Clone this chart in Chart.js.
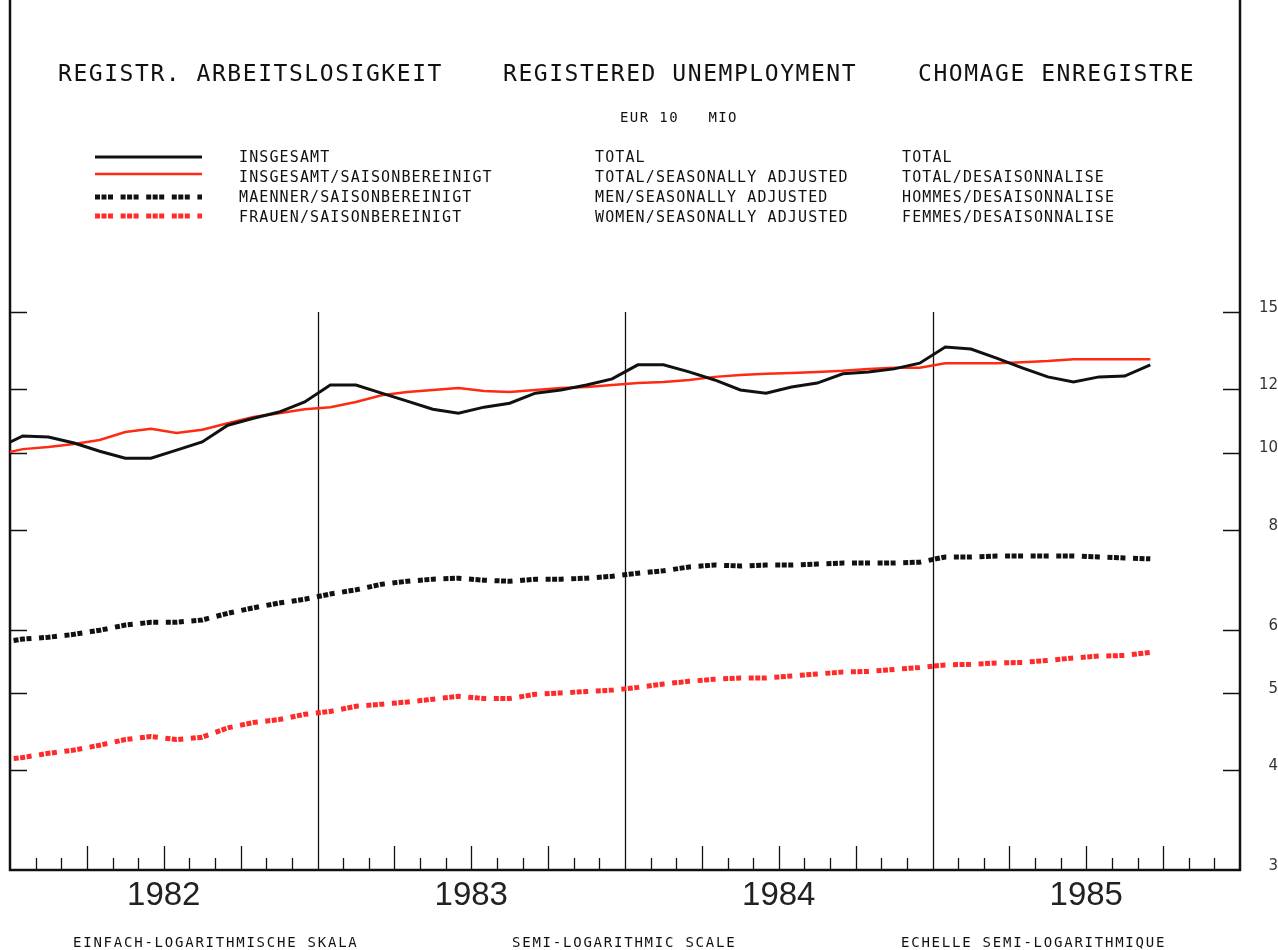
<!DOCTYPE html>
<html>
<head>
<meta charset="utf-8">
<title>Registrierte Arbeitslosigkeit</title>
<script src="https://cdn.jsdelivr.net/npm/chart.js@4.4.0/dist/chart.umd.min.js"></script>
<style>
    body { margin: 0; background: #fff; }
    #caixa { position: relative; width: 1278px; height: 950px; overflow: hidden; background: #fff; }
    #grafico { position: absolute; left: 0; top: 0; }
    .txt { position: absolute; font-family: "DejaVu Sans Mono", monospace; color: #111; white-space: pre; line-height: 1; }
    .titulo { font-size: 23px; letter-spacing: 1.55px; top: 62px; }
    .unidade { font-size: 14px; letter-spacing: 1.4px; top: 110px; left: 620px; }
    .legenda { font-size: 15px; letter-spacing: 1.12px; line-height: 20px; top: 147px; }
    .rodape { font-size: 14px; letter-spacing: 1.77px; top: 935px; }
</style>
</head>
<body>
<div id="caixa">
    <canvas id="grafico" width="1278" height="950"></canvas>

    <div class="txt titulo" style="left:58px">REGISTR. ARBEITSLOSIGKEIT</div>
    <div class="txt titulo" style="left:503px">REGISTERED UNEMPLOYMENT</div>
    <div class="txt titulo" style="left:918px">CHOMAGE ENREGISTRE</div>
    <div class="txt unidade">EUR 10   MIO</div>

    <div class="txt legenda" style="left:239px">INSGESAMT
INSGESAMT/SAISONBEREINIGT
MAENNER/SAISONBEREINIGT
FRAUEN/SAISONBEREINIGT</div>
    <div class="txt legenda" style="left:595px">TOTAL
TOTAL/SEASONALLY ADJUSTED
MEN/SEASONALLY ADJUSTED
WOMEN/SEASONALLY ADJUSTED</div>
    <div class="txt legenda" style="left:902px">TOTAL
TOTAL/DESAISONNALISE
HOMMES/DESAISONNALISE
FEMMES/DESAISONNALISE</div>

    <div class="txt rodape" style="left:73px">EINFACH-LOGARITHMISCHE SKALA</div>
    <div class="txt rodape" style="left:512px">SEMI-LOGARITHMIC SCALE</div>
    <div class="txt rodape" style="left:901px">ECHELLE SEMI-LOGARITHMIQUE</div>
</div>

<script>
// meses (Dez 1981 ate Set 1985), valores em EUR 10 MIO
const meses = [
    '12/81',
    '01/82', '02/82', '03/82', '04/82', '05/82', '06/82', '07/82', '08/82', '09/82', '10/82', '11/82', '12/82',
    '01/83', '02/83', '03/83', '04/83', '05/83', '06/83', '07/83', '08/83', '09/83', '10/83', '11/83', '12/83',
    '01/84', '02/84', '03/84', '04/84', '05/84', '06/84', '07/84', '08/84', '09/84', '10/84', '11/84', '12/84',
    '01/85', '02/85', '03/85', '04/85', '05/85', '06/85', '07/85', '08/85', '09/85'
];

const insgesamt = [
    10.13,
    10.49, 10.46, 10.28, 10.04, 9.84, 9.84, 10.07, 10.31, 10.82, 11.04, 11.24, 11.57,
    12.15, 12.15, 11.87, 11.60, 11.33, 11.20, 11.40, 11.53, 11.87, 11.98, 12.15, 12.37,
    12.88, 12.88, 12.62, 12.33, 11.98, 11.87, 12.08, 12.22, 12.55, 12.62, 12.73, 12.94,
    13.56, 13.48, 13.13, 12.77, 12.44, 12.26, 12.44, 12.47, 12.88
];

const insgesamtSaison = [
    9.93,
    10.10, 10.16, 10.25, 10.37, 10.61, 10.71, 10.58, 10.68, 10.88, 11.08, 11.20, 11.33,
    11.40, 11.57, 11.80, 11.91, 11.98, 12.05, 11.94, 11.91, 11.98, 12.05, 12.08, 12.15,
    12.22, 12.26, 12.33, 12.44, 12.51, 12.55, 12.58, 12.62, 12.66, 12.73, 12.77, 12.77,
    12.94, 12.94, 12.94, 12.98, 13.02, 13.09, 13.09, 13.09, 13.09
];

const maenner = [
    5.77,
    5.84, 5.87, 5.92, 5.99, 6.08, 6.13, 6.13, 6.17, 6.29, 6.39, 6.48, 6.55,
    6.65, 6.73, 6.84, 6.90, 6.94, 6.96, 6.92, 6.90, 6.94, 6.94, 6.96, 7.00,
    7.06, 7.11, 7.19, 7.23, 7.21, 7.23, 7.23, 7.25, 7.27, 7.27, 7.27, 7.29,
    7.40, 7.40, 7.42, 7.42, 7.42, 7.42, 7.40, 7.38, 7.36
];

const frauen = [
    4.12,
    4.15, 4.20, 4.24, 4.30, 4.37, 4.41, 4.37, 4.40, 4.52, 4.59, 4.63, 4.70,
    4.74, 4.81, 4.84, 4.87, 4.91, 4.95, 4.92, 4.92, 4.98, 5.00, 5.02, 5.04,
    5.08, 5.13, 5.17, 5.20, 5.22, 5.22, 5.25, 5.28, 5.31, 5.32, 5.35, 5.38,
    5.42, 5.43, 5.45, 5.46, 5.49, 5.53, 5.56, 5.57, 5.62
];

const anos = ['1982', '1983', '1984', '1985'];
const valoresEixo = [3, 4, 5, 6, 8, 10, 12, 15];

// cada mes fica no meio do seu intervalo (0 = inicio de 1982)
function pontos(serie) {
    return serie.map(function (v, i) {
        return { x: i - 0.5, y: v };
    });
}

const tracoPontilhado = [5, 1.5, 5, 1.5, 5, 7.6];

// moldura, divisorias de ano, ticks internos e amostras da legenda
const moldura = {
    id: 'moldura',
    beforeDatasetsDraw(chart) {
        const ctx = chart.ctx;
        const a = chart.chartArea;
        const sx = chart.scales.x;
        const sy = chart.scales.y;
        ctx.save();
        ctx.strokeStyle = '#111';

        // divisorias entre anos
        ctx.lineWidth = 1.3;
        const topo = sy.getPixelForValue(15);
        for (let m = 12; m < 48; m += 12) {
            const px = Math.round(sx.getPixelForValue(m)) + 0.5;
            ctx.beginPath();
            ctx.moveTo(px, topo);
            ctx.lineTo(px, a.bottom);
            ctx.stroke();
        }

        // ticks dos meses na base
        ctx.lineWidth = 1.3;
        for (let m = 1; m < 48; m++) {
            if (m % 12 == 0) continue;
            const px = Math.round(sx.getPixelForValue(m)) + 0.5;
            const tam = (m % 3 == 0) ? 24 : 12;
            ctx.beginPath();
            ctx.moveTo(px, a.bottom);
            ctx.lineTo(px, a.bottom - tam);
            ctx.stroke();
        }

        // ticks internos dos valores, dos dois lados
        ctx.lineWidth = 1.5;
        valoresEixo.forEach(function (v) {
            if (v == 3) return;
            const py = Math.round(sy.getPixelForValue(v)) + 0.5;
            ctx.beginPath();
            ctx.moveTo(a.left, py);
            ctx.lineTo(a.left + 17, py);
            ctx.moveTo(a.right - 17, py);
            ctx.lineTo(a.right, py);
            ctx.stroke();
        });

        // moldura
        ctx.lineWidth = 2.5;
        ctx.beginPath();
        ctx.moveTo(a.left, a.top);
        ctx.lineTo(a.left, a.bottom);
        ctx.lineTo(a.right, a.bottom);
        ctx.lineTo(a.right, a.top);
        ctx.stroke();

        // amostras da legenda
        const linhasLegenda = [157, 174, 197, 216];
        chart.data.datasets.forEach(function (ds, i) {
            ctx.beginPath();
            ctx.strokeStyle = ds.borderColor;
            ctx.lineWidth = ds.borderWidth;
            ctx.setLineDash(ds.borderDash || []);
            ctx.lineDashOffset = 0;
            ctx.moveTo(95, linhasLegenda[i]);
            ctx.lineTo(202, linhasLegenda[i]);
            ctx.stroke();
        });
        ctx.restore();
    }
};

const ctx = document.getElementById('grafico');
new Chart(ctx, {
    type: 'line',
    data: {
        labels: meses,
        datasets: [{
            label: 'INSGESAMT',
            data: pontos(insgesamt),
            borderColor: '#111111',
            borderWidth: 3,
            pointRadius: 0,
            tension: 0,
            clip: 0
        }, {
            label: 'INSGESAMT/SAISONBEREINIGT',
            data: pontos(insgesamtSaison),
            borderColor: '#ff2a12',
            borderWidth: 2.5,
            pointRadius: 0,
            tension: 0,
            clip: 0
        }, {
            label: 'MAENNER/SAISONBEREINIGT',
            data: pontos(maenner),
            borderColor: '#111111',
            borderWidth: 5,
            borderDash: tracoPontilhado,
            borderDashOffset: 9,
            borderCapStyle: 'butt',
            pointRadius: 0,
            tension: 0,
            clip: 0
        }, {
            label: 'FRAUEN/SAISONBEREINIGT',
            data: pontos(frauen),
            borderColor: '#ff2a2a',
            borderWidth: 5,
            borderDash: tracoPontilhado,
            borderDashOffset: 9,
            borderCapStyle: 'butt',
            pointRadius: 0,
            tension: 0,
            clip: 0
        }]
    },
    options: {
        responsive: false,
        animation: false,
        devicePixelRatio: 1,
        layout: { padding: { left: 10, top: 0, right: 0, bottom: 0 } },
        plugins: {
            legend: { display: false },
            tooltip: { enabled: false }
        },
        scales: {
            x: {
                type: 'linear',
                position: 'bottom',
                min: 0,
                max: 48,
                grid: { display: false, drawTicks: false },
                border: { display: false },
                afterBuildTicks: function (scale) {
                    scale.ticks = anos.map(function (a, i) { return { value: 6 + i * 12 }; });
                },
                afterFit: function (scale) {
                    scale.height = 80;
                    scale.paddingLeft = 0;
                    scale.paddingRight = 0;
                },
                ticks: {
                    autoSkip: false,
                    maxRotation: 0,
                    minRotation: 0,
                    padding: 6,
                    color: '#222',
                    font: { family: 'Liberation Sans', size: 33 },
                    callback: function (v) {
                        return anos[(v - 6) / 12];
                    }
                }
            },
            y: {
                type: 'logarithmic',
                position: 'right',
                min: 3,
                max: 36.89,
                grid: { display: false, drawTicks: false },
                border: { display: false },
                afterBuildTicks: function (scale) {
                    scale.ticks = valoresEixo.map(function (v) { return { value: v }; });
                },
                afterFit: function (scale) {
                    scale.width = 38;
                    scale.paddingTop = 0;
                    scale.paddingBottom = 0;
                },
                ticks: {
                    autoSkip: false,
                    crossAlign: 'far',
                    labelOffset: -4,
                    padding: 0,
                    color: '#333',
                    font: { family: 'DejaVu Sans', size: 15 },
                    callback: function (v) {
                        return String(v);
                    }
                }
            }
        }
    },
    plugins: [moldura]
});
</script>
</body>
</html>
